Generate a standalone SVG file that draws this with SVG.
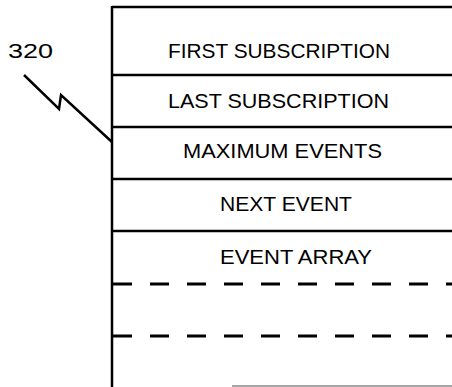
<svg xmlns="http://www.w3.org/2000/svg" width="452" height="387" viewBox="0 0 452 387">
<style>
.ln{stroke:#000;stroke-width:2.5;fill:none}
.dash{stroke:#000;stroke-width:3;fill:none;stroke-dasharray:19 18}
.t{font-family:"Liberation Sans",Arial,sans-serif;font-size:21px;fill:#000}
</style>
<rect width="452" height="387" fill="#fff"/>
<g id="connectors">
<path id="ref320" class="ln" d="M24,75 L59,109 L61,95 L112,142"/>
</g>
<g id="label320"><text class="t" x="8" y="58" font-size="22" textLength="45" lengthAdjust="spacingAndGlyphs">320</text></g>
<g id="frame">
<line class="ln" x1="112" y1="7" x2="452" y2="7"/>
<line class="ln" x1="112" y1="6" x2="112" y2="387" stroke-width="3"/>
<line x1="232" y1="386" x2="452" y2="386" stroke="#888" stroke-width="1.5"/>
</g>
<g id="first-subscription">
<text class="t" x="168" y="58" textLength="222" lengthAdjust="spacingAndGlyphs">FIRST SUBSCRIPTION</text>
<line class="ln" x1="112" y1="75" x2="452" y2="75"/>
</g>
<g id="last-subscription">
<text class="t" x="168" y="108" textLength="221" lengthAdjust="spacingAndGlyphs">LAST SUBSCRIPTION</text>
<line class="ln" x1="112" y1="127" x2="452" y2="127"/>
</g>
<g id="maximum-events">
<text class="t" x="183" y="158" textLength="199" lengthAdjust="spacingAndGlyphs">MAXIMUM EVENTS</text>
<line class="ln" x1="112" y1="179" x2="452" y2="179"/>
</g>
<g id="next-event">
<text class="t" x="220" y="211" textLength="132" lengthAdjust="spacingAndGlyphs">NEXT EVENT</text>
<line class="ln" x1="112" y1="231" x2="452" y2="231"/>
</g>
<g id="event-array">
<text class="t" x="220" y="264" textLength="152" lengthAdjust="spacingAndGlyphs">EVENT ARRAY</text>
<line class="dash" x1="113" y1="284" x2="452" y2="284"/>
<line class="dash" x1="113" y1="336" x2="452" y2="336"/>
</g>
</svg>
